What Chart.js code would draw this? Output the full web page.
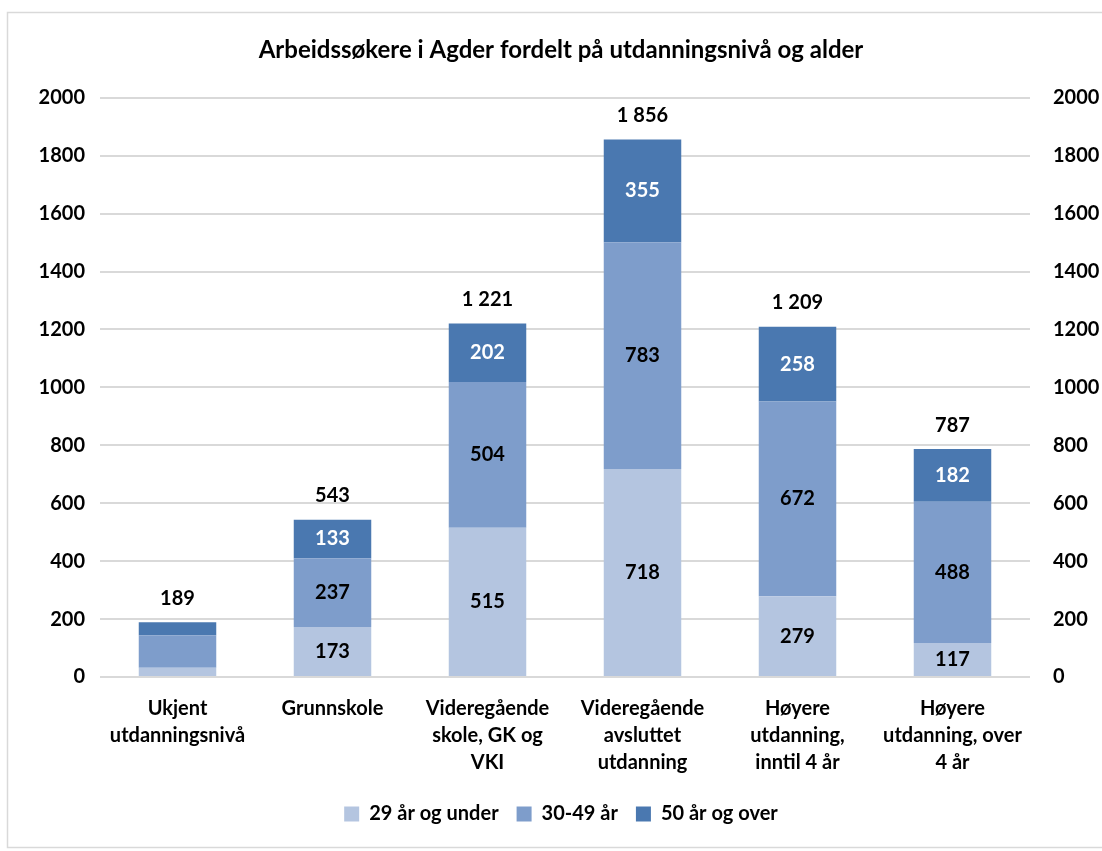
<!DOCTYPE html>
<html>
<head>
<meta charset="utf-8">
<script src="https://cdn.jsdelivr.net/npm/chart.js@4/dist/chart.umd.min.js"></script>
<style>
  body { margin: 0; background: #fff; }
  #wrap { width: 1102px; height: 851px; position: relative; }
</style>
</head>
<body>
<div id="wrap"><canvas id="chartAgder" width="1102" height="851"></canvas></div>
<script>
// Data lest av figuren
const kategorier = [
    ['Ukjent', 'utdanningsnivå'],
    'Grunnskole',
    ['Videregående', 'skole, GK og', 'VKI'],
    ['Videregående', 'avsluttet', 'utdanning'],
    ['Høyere', 'utdanning,', 'inntil 4 år'],
    ['Høyere', 'utdanning, over', '4 år']
];
const under29 = [32, 173, 515, 718, 279, 117];
const alder30til49 = [112, 237, 504, 783, 672, 488];
const over50 = [45, 133, 202, 355, 258, 182];
const yTicks = [0, 200, 400, 600, 800, 1000, 1200, 1400, 1600, 1800, 2000];

const fontFamily = 'Lato, "Open Sans", sans-serif';

function formatTall(v) {
    return String(v).replace(/\B(?=(\d{3})+(?!\d))/g, ' ');
}

// ramme rundt hele figuren
const rammePlugin = {
    id: 'ramme',
    beforeDraw(chart) {
        const c = chart.ctx;
        c.save();
        c.fillStyle = '#ffffff';
        c.fillRect(0, 0, chart.width, chart.height);
        c.strokeStyle = '#d9d9d9';
        c.lineWidth = 1.5;
        c.strokeRect(7.5, 12.5, chart.width, chart.height - 16);
        c.restore();
    }
};

// verdier i søylene og totaler over
const etikettPlugin = {
    id: 'etiketter',
    afterDatasetsDraw(chart) {
        const c = chart.ctx;
        c.save();
        c.font = 'bold 20px ' + fontFamily;
        c.textAlign = 'center';
        c.textBaseline = 'middle';
        chart.data.datasets.forEach((ds, i) => {
            const meta = chart.getDatasetMeta(i);
            meta.data.forEach((bar, j) => {
                if (j === 0) return;
                c.fillStyle = i === 2 ? '#ffffff' : '#000000';
                c.fillText(ds.data[j], bar.x, (bar.y + bar.base) / 2);
            });
        });
        const topp = chart.getDatasetMeta(2);
        topp.data.forEach((bar, j) => {
            const sum = under29[j] + alder30til49[j] + over50[j];
            c.fillStyle = '#000000';
            c.fillText(formatTall(sum), bar.x, bar.y - 24);
        });
        c.restore();
    }
};

const tickFont = { family: fontFamily, size: 20, weight: 'bold' };

const ctx = document.getElementById('chartAgder').getContext('2d');
new Chart(ctx, {
    type: 'bar',
    data: {
        labels: kategorier,
        datasets: [
            { label: '29 år og under', data: under29, backgroundColor: '#b4c5e0' },
            { label: '30-49 år', data: alder30til49, backgroundColor: '#7e9dcb' },
            { label: '50 år og over', data: over50, backgroundColor: '#4a78b0' }
        ]
    },
    options: {
        responsive: false,
        animation: false,
        barPercentage: 0.5,
        categoryPercentage: 1,
        layout: { padding: { top: 36, left: 20, right: 0, bottom: 17 } },
        scales: {
            x: {
                stacked: true,
                grid: { display: false },
                border: { display: false },
                ticks: {
                    color: '#000',
                    padding: 10,
                    maxRotation: 0,
                    font: { family: fontFamily, size: 20, weight: 'bold', lineHeight: 1.35 }
                }
            },
            y: {
                stacked: true,
                min: 0,
                max: 2000,
                afterBuildTicks: s => { s.ticks = yTicks.map(v => ({ value: v })); },
                afterFit: s => { s.width = 80; },
                grid: { color: '#d9d9d9', lineWidth: 2, drawTicks: false },
                border: { display: false },
                ticks: {
                    color: '#000',
                    padding: 15,
                    callback: v => String(v),
                    font: tickFont
                }
            },
            y2: {
                position: 'right',
                min: 0,
                max: 2000,
                afterBuildTicks: s => { s.ticks = yTicks.map(v => ({ value: v })); },
                afterFit: s => { s.width = 72; },
                grid: { display: false, drawTicks: false },
                border: { display: false },
                ticks: {
                    color: '#000',
                    padding: 23,
                    callback: v => String(v),
                    font: tickFont
                }
            }
        },
        plugins: {
            title: {
                display: true,
                text: 'Arbeidssøkere i Agder fordelt på utdanningsnivå og alder',
                color: '#000',
                font: { family: fontFamily, size: 24, weight: 'bold', lineHeight: 1.2 },
                padding: { top: 0, bottom: 33 }
            },
            legend: {
                position: 'bottom',
                labels: {
                    color: '#000',
                    boxWidth: 15,
                    boxHeight: 15,
                    padding: 18,
                    font: tickFont
                }
            },
            tooltip: { enabled: false }
        }
    },
    plugins: [rammePlugin, etikettPlugin]
});
</script>
</body>
</html>
